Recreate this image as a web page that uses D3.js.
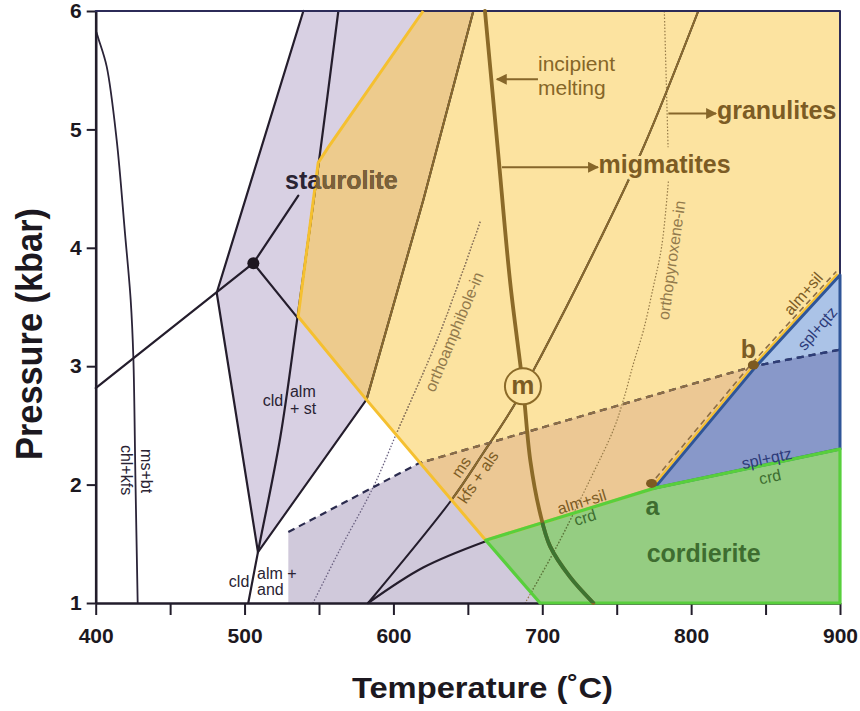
<!DOCTYPE html>
<html>
<head>
<meta charset="utf-8">
<script src="https://cdn.jsdelivr.net/npm/d3@7"></script>
<style>
  body { margin: 0; background: #fff; }
  text { font-family: "Liberation Sans", Arial, Helvetica, sans-serif; }
  .field { font-size: 25px; font-weight: bold; }
  .note { font-size: 21px; fill: #866628; }
  .small { font-size: 16px; }
  .brown { fill: #7c5c24; }
  .dark { fill: #2a2333; }
  .green { fill: #3e6d30; }
  .blue { fill: #2d3b7a; }
</style>
</head>
<body>
<svg id="chart" width="860" height="711"></svg>
<script>
// axes
const xTicks = d3.range(400, 901, 50);
const yTicks = [1, 2, 3, 4, 5, 6];

// fields [T (°C), P (kbar)]
const staurolitePoly = [[539.5, 6], [653.7, 6], [620, 4.4], [582, 2.72], [509, 1.43], [481.3, 3.62]];
const lowerPoly = [[529.4, 1], [529.4, 1.6], [617, 2.18], [842, 3.0], [900, 3.14], [900, 1]];
const yellowPoly = [[620, 6], [900, 6], [900, 3.77], [843, 2.99], [775.4, 1.97], [662, 1.53], [581, 2.73], [536, 3.42], [549.5, 4.72], [556.3, 4.85]];
const bluePoly = [[775.4, 1.97], [843, 2.99], [900, 3.77], [900, 2.30]];
const greenPoly = [[662, 1.53], [775.4, 1.97], [900, 2.30], [900, 1], [698.5, 1]];

// reaction lines
const leftCurve = [[400.5, 5.82], [402, 5.76], [407.4, 5.53], [414.1, 4.91], [419.7, 4.12], [423.5, 3.56], [425.3, 3.07], [426.7, 2.04], [428.2, 1.0]];
const stauroliteLeft = [[539.5, 6], [481.3, 3.62], [509, 1.43]];
const cldLine = [[563, 6], [550.7, 4.8], [535.5, 3.41], [524, 2.4], [509, 1.43], [502.5, 1]];
const tieLine = [[400, 2.815], [505.9, 3.87]];
const dotUp = [[505.9, 3.87], [536.1, 4.44]];
const dotDown = [[505.9, 3.87], [535.5, 3.41]];
const stBoundary = [[509, 1.43], [582, 2.72], [620, 4.4], [653.7, 6]];
const msLine = [[583, 1], [639, 1.87], [660, 2.26], [680.6, 2.66], [698.5, 3.07], [738, 4.05], [768, 4.85], [804.8, 6]];
const lowerTie = [[583, 1], [620, 1.3], [661.6, 1.52]];
const meltCurve = [[661.5, 6], [670, 4.85], [678.5, 3.7], [687, 2.83], [692, 2.2], [698.5, 1.76], [705.2, 1.48], [718.6, 1.22], [734.3, 1.0]];
const orthoamph = [[658.3, 4.22], [631.2, 3.28], [602, 2.43], [586.5, 1.98], [564, 1.45], [546, 1.0]];
const orthopyxTop = [[782, 6], [784.5, 4.85]];
const orthopyx = [[784.7, 4.56], [780.2, 4.01], [774.6, 3.67], [767.9, 3.30], [761.2, 3.02], [754.4, 2.71], [747.7, 2.46], [732, 2.04], [709.6, 1.475], [688.5, 1.0]];
const dashedBoundary = [[529.4, 1.6], [617, 2.18], [842, 3.0], [900, 3.14]];
const almSilDash = [[772, 1.99], [840.5, 3.02], [897.5, 3.8]];
const yellowEdge = [[620, 6], [556.3, 4.85], [549.5, 4.72], [536, 3.42], [581, 2.73], [662, 1.53], [775.4, 1.97]];
const yellowEdgeRight = [[775.4, 1.97], [843, 2.99], [900, 3.77]];

// points
const tripleDot = [505.9, 3.87];
const aDot = [773.4, 2.01];
const bDot = [841.8, 3.01];
const mPoint = [687, 2.83];

const svg = d3.select('#chart');
const x = d3.scaleLinear().domain([400, 900]).range([95.7, 840]);
const y = d3.scaleLinear().domain([1, 6]).range([603, 11]);

const straight = d3.line().x(d => x(d[0])).y(d => y(d[1]));
const smooth = d3.line().x(d => x(d[0])).y(d => y(d[1])).curve(d3.curveCatmullRom.alpha(0.5));

svg.append('rect').attr('width', 860).attr('height', 711).attr('fill', '#fff');

const defs = svg.append('defs');
function addClip(id, pts) {
    defs.append('clipPath').attr('id', id)
        .append('path').attr('d', straight(pts) + 'Z');
}
addClip('clip-yellow', yellowPoly);
addClip('clip-green', greenPoly);
addClip('clip-blue', bluePoly);

defs.append('marker')
    .attr('id', 'arrow')
    .attr('viewBox', '0 0 10 10')
    .attr('refX', 9).attr('refY', 5)
    .attr('markerUnits', 'userSpaceOnUse')
    .attr('markerWidth', 15).attr('markerHeight', 11)
    .attr('orient', 'auto')
    .append('path').attr('d', 'M0,0 L10,5 L0,10 Z').attr('fill', '#86662a');

// fields (overlaps painted as clipped copies)
function area(pts, fill, clip) {
    const p = svg.append('path').attr('d', straight(pts) + 'Z').attr('fill', fill);
    if (clip) p.attr('clip-path', `url(#${clip})`);
}
area(staurolitePoly, '#d8d0e3');
area(lowerPoly, '#d0c9db');
area(yellowPoly, '#fce3a0');
area(staurolitePoly, '#edcb8d', 'clip-yellow');
area(lowerPoly, '#ecc894', 'clip-yellow');
area(bluePoly, '#abc3e7');
area(lowerPoly, '#8898c9', 'clip-blue');
area(greenPoly, '#95cd82');

// line drawing, recoloured inside the coloured fields
function drawLine(pts, color, opts = {}) {
    const gen = opts.smooth ? smooth : straight;
    const put = (c, clip) => {
        const p = svg.append('path')
            .attr('d', gen(pts))
            .attr('fill', 'none')
            .attr('stroke', c)
            .attr('stroke-width', opts.width || 2.2)
            .attr('stroke-linejoin', 'round')
            .attr('stroke-linecap', opts.dash ? 'butt' : 'round');
        if (opts.dash) p.attr('stroke-dasharray', opts.dash);
        if (clip) p.attr('clip-path', `url(#${clip})`);
    };
    put(color);
    if (opts.inYellow) put(opts.inYellow, 'clip-yellow');
    if (opts.inBlue) put(opts.inBlue, 'clip-blue');
    if (opts.inGreen) put(opts.inGreen, 'clip-green');
}

const black = '#241d2c';
const brown = '#8a6a2d';

drawLine(orthoamph, '#6a6180', { smooth: true, width: 1.3, dash: '1.5,1.8', inYellow: '#9c8152' });
drawLine(orthopyxTop, '#957a48', { width: 1.2, dash: '1.5,1.8' });
drawLine(orthopyx, '#957a48', { smooth: true, width: 1.2, dash: '1.5,1.8', inGreen: '#4f7f3f' });

drawLine(leftCurve, '#2b2438', { smooth: true, width: 1.8 });
drawLine(stauroliteLeft, black);
drawLine(cldLine, black, { smooth: true, inYellow: brown });
drawLine(tieLine, black);
drawLine(dotUp, black);
drawLine(dotDown, black);
drawLine(stBoundary, black, { inYellow: brown, width: 2.1 });
drawLine(msLine, black, { smooth: true, inYellow: brown, width: 2 });
drawLine(lowerTie, black, { smooth: true });

drawLine(dashedBoundary, '#2b2b4e', { width: 2.2, dash: '7,5', inYellow: '#8d6e45', inBlue: '#2d3d78' });
drawLine(almSilDash, '#8d6e45', { width: 1.6, dash: '6,4' });

// axes
const axisColor = '#221d2b';
const xAxis = svg.append('g')
    .attr('transform', `translate(0,${y(1)})`)
    .call(d3.axisBottom(x).tickValues(xTicks).tickFormat(d => d % 100 === 0 ? d : '')
        .tickSize(12).tickSizeOuter(0).tickPadding(13));
const yAxis = svg.append('g')
    .attr('transform', `translate(${x(400)},0)`)
    .call(d3.axisLeft(y).tickValues(yTicks).tickFormat(d3.format('d'))
        .tickSize(9).tickSizeOuter(0).tickPadding(5));
[xAxis, yAxis].forEach(ax => {
    ax.select('.domain').attr('stroke', axisColor).attr('stroke-width', 2.6);
    ax.selectAll('.tick line').attr('stroke', axisColor).attr('stroke-width', 2);
    ax.selectAll('.tick text')
        .attr('font-size', 21).attr('font-weight', 'bold').attr('fill', '#1c1820');
});
drawLine([[400, 6], [900, 6], [900, 1]], '#2c2b58', { width: 2 });

// field outlines
svg.append('path').attr('d', straight(yellowEdge)).attr('fill', 'none')
    .attr('stroke', '#f5c030').attr('stroke-width', 3).attr('stroke-linejoin', 'round');
svg.append('path').attr('d', straight(yellowEdgeRight)).attr('fill', 'none')
    .attr('transform', 'translate(-2.5,-1)')
    .attr('stroke', '#f5c030').attr('stroke-width', 2);
svg.append('path').attr('d', straight(bluePoly) + 'Z').attr('fill', 'none')
    .attr('stroke', '#2f5597').attr('stroke-width', 3).attr('stroke-linejoin', 'round');
svg.append('path').attr('d', straight(greenPoly) + 'Z').attr('fill', 'none')
    .attr('stroke', '#58cf3c').attr('stroke-width', 3.2).attr('stroke-linejoin', 'round');

// melting curve
drawLine(meltCurve, '#8b6a28', { smooth: true, width: 3.8, inGreen: '#3d7431' });

// points
svg.append('circle').attr('cx', x(tripleDot[0])).attr('cy', y(tripleDot[1]))
    .attr('r', 6).attr('fill', '#1d1620');
[aDot, bDot].forEach(d => {
    svg.append('ellipse').attr('cx', x(d[0])).attr('cy', y(d[1]))
        .attr('rx', 5.5).attr('ry', 4.5).attr('fill', '#7d5a22');
});
svg.append('circle').attr('cx', x(mPoint[0])).attr('cy', y(mPoint[1]))
    .attr('r', 18).attr('fill', '#fce3a0').attr('stroke', '#8b6a28').attr('stroke-width', 2);
svg.append('text').attr('x', x(mPoint[0])).attr('y', y(mPoint[1]) + 8)
    .attr('text-anchor', 'middle').attr('class', 'brown')
    .attr('font-size', 26).attr('font-weight', 'bold').text('m');

// labels
function label(txt, t, p, cls, opts = {}) {
    const g = svg.append('g');
    if (opts.clip) g.attr('clip-path', `url(#${opts.clip})`);
    const el = g.append('text')
        .attr('class', cls)
        .attr('text-anchor', opts.anchor || 'middle')
        .attr('transform', `translate(${x(t)},${y(p)}) rotate(${opts.angle || 0})`)
        .text(txt);
    if (opts.rotated) el.attr('dy', '0.35em');
    if (opts.halo) {
        el.attr('stroke', opts.halo).attr('stroke-width', 6)
            .attr('stroke-linejoin', 'round').style('paint-order', 'stroke');
    }
    if (opts.size) el.attr('font-size', opts.size);
    return el;
}

label('staurolite', 565, 4.50, 'field dark');
label('staurolite', 565, 4.50, 'field', { clip: 'clip-yellow' }).attr('fill', '#7c6238');

label('incipient', 697.1, 5.491, 'note', { anchor: 'start' });
label('melting', 697.1, 5.293, 'note', { anchor: 'start' });
label('granulites', 817.3, 5.09, 'field brown', { anchor: 'start' });
label('migmatites', 737.8, 4.63, 'field brown', { anchor: 'start', halo: '#fce3a0' });
label('cordierite', 770.1, 1.349, 'field green', { anchor: 'start' });
label('a', 774.0, 1.743, 'field green', { size: 22 });
label('b', 838.4, 3.066, 'field brown', { size: 22 });

label('cld', 519.1, 2.663, 'small dark', { size: 15 });
label('alm', 530.5, 2.742, 'small dark', { anchor: 'start', size: 15 });
label('+ st', 530.5, 2.595, 'small dark', { anchor: 'start', size: 15 });
label('cld', 496.3, 1.138, 'small dark', { size: 15 });
label('alm +', 508.4, 1.203, 'small dark', { anchor: 'start', size: 15 });
label('and', 508.4, 1.068, 'small dark', { anchor: 'start', size: 15 });
label('ms+bt', 434.5, 2.114, 'small dark', { angle: 90, rotated: true, size: 15 });
label('chl+kfs', 420.7, 2.123, 'small dark', { angle: 90, rotated: true, size: 15 });

label('orthoamphibole-in', 640.7, 3.29, 'small', { angle: -67.3, rotated: true }).attr('fill', '#927a4c');
label('orthopyroxene-in', 786.8, 3.895, 'small', { angle: -82, rotated: true, size: 16.5 }).attr('fill', '#927a4c');
label('ms', 645.4, 2.148, 'small brown', { angle: -56, rotated: true, size: 17 });
label('kfs + als', 656.8, 2.064, 'small brown', { angle: -56, rotated: true, size: 17 });
label('alm+sil', 726.5, 1.855, 'small brown', { angle: -17, rotated: true });
label('crd', 728.7, 1.723, 'small green', { angle: -17, rotated: true });
label('alm+sil', 875.3, 3.614, 'small brown', { angle: -49, rotated: true });
label('spl+qtz', 884.7, 3.319, 'small blue', { angle: -49, rotated: true });
label('spl+qtz', 850.8, 2.221, 'small blue', { angle: -12, rotated: true });
label('crd', 853.0, 2.066, 'small green', { angle: -12, rotated: true });

// arrows
function arrow(from, to) {
    svg.append('path').attr('d', straight([from, to]))
        .attr('stroke', '#86662a').attr('stroke-width', 2)
        .attr('marker-end', 'url(#arrow)');
}
arrow([697.1, 5.423], [669.5, 5.423]);
arrow([672.9, 4.68], [737.4, 4.68]);
arrow([784.7, 5.134], [816.7, 5.134]);

// axis titles
svg.append('text')
    .attr('transform', 'translate(41.5,334) rotate(-90)')
    .attr('text-anchor', 'middle')
    .attr('font-size', 37).attr('font-weight', 'bold').attr('fill', '#1c1820')
    .attr('textLength', 252).attr('lengthAdjust', 'spacingAndGlyphs')
    .text('Pressure (kbar)');
svg.append('text')
    .attr('x', 482.4).attr('y', 698)
    .attr('text-anchor', 'middle')
    .attr('font-size', 30).attr('font-weight', 'bold').attr('fill', '#1c1820')
    .attr('textLength', 261).attr('lengthAdjust', 'spacingAndGlyphs')
    .text('Temperature (˚C)');
</script>
</body>
</html>
